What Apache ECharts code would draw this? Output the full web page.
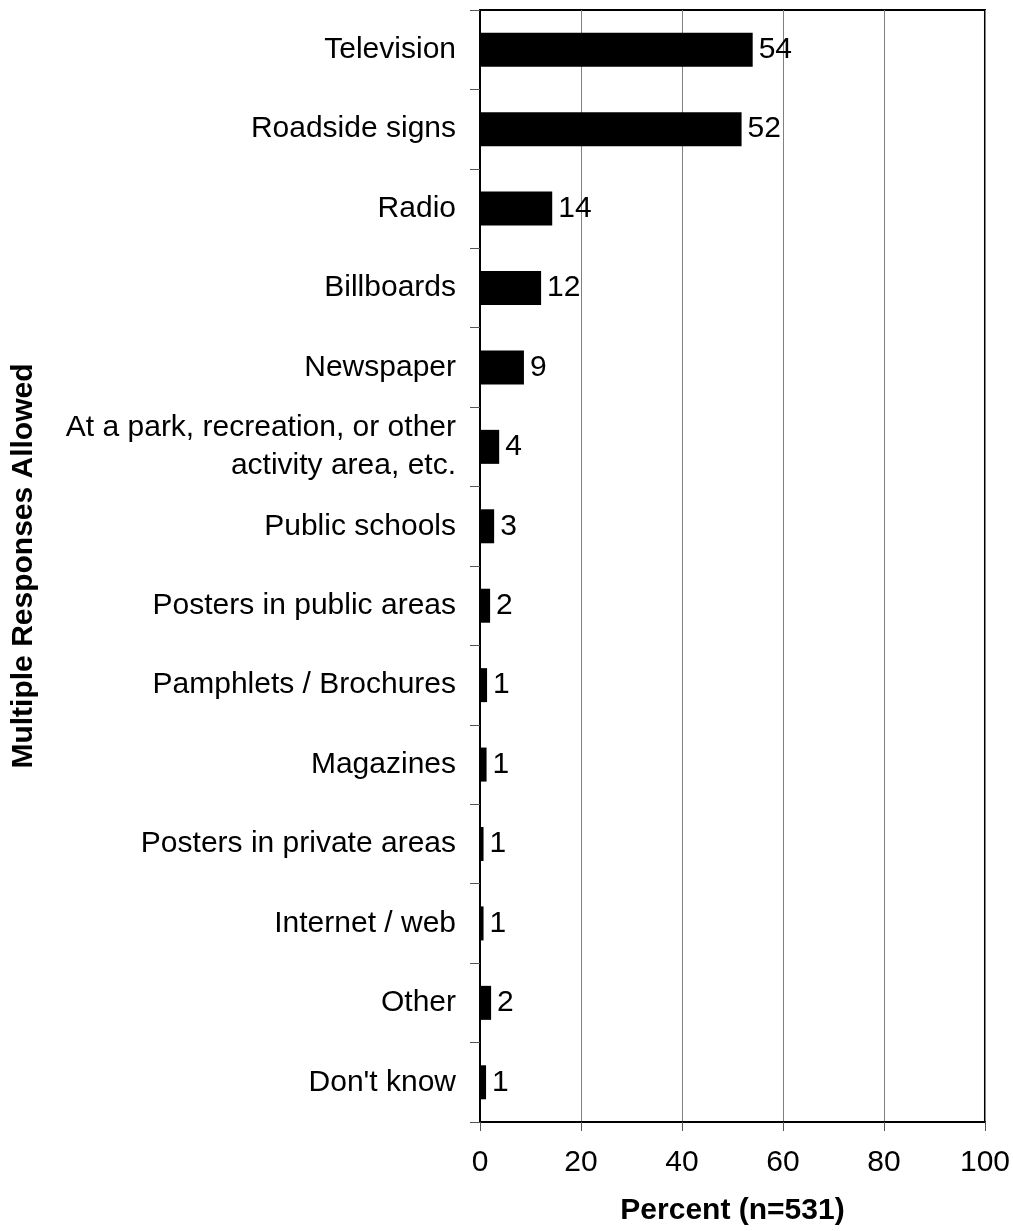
<!DOCTYPE html>
<html>
<head>
<meta charset="utf-8">
<script src="https://cdn.jsdelivr.net/npm/echarts@6/dist/echarts.min.js"></script>
<style>
  html, body { margin: 0; padding: 0; background: #fff; }
  #chart { width: 1013px; height: 1231px; }
</style>
</head>
<body>
<div id="chart"></div>
<script>
(function() {
    'use strict';

    // categories, top to bottom
    var categories = [
        "Television",
        "Roadside signs",
        "Radio",
        "Billboards",
        "Newspaper",
        "At a park, recreation, or other\nactivity area, etc.",
        "Public schools",
        "Posters in public areas",
        "Pamphlets / Brochures",
        "Magazines",
        "Posters in private areas",
        "Internet / web",
        "Other",
        "Don't know"
    ];

    // percent
    var percents = [54.0, 51.8, 14.3, 12.1, 8.7, 3.8, 2.8, 2.0, 1.4, 1.3, 0.7, 0.7, 2.2, 1.2];

    var xTicks = [0, 20, 40, 60, 80, 100];

    var font = "'Liberation Sans', Arial, sans-serif";
    var fontSize = 30;

    var myChart = echarts.init(document.getElementById("chart"));

    var option = {
        animation : false,
        backgroundColor : "#fff",
        grid : {
            left : 480,
            right : 28,
            top : 10,
            bottom : 109,
            show : true,
            borderColor : "#000",
            borderWidth : 2
        },
        xAxis : {
            type : "value",
            min : xTicks[0],
            max : xTicks[xTicks.length - 1],
            interval : 20,
            name : "Percent (n=531)",
            nameLocation : "middle",
            nameGap : 74,
            nameTextStyle : {
                fontFamily : font,
                fontSize : fontSize,
                fontWeight : "bold",
                color : "#000"
            },
            axisLine : { show : true, lineStyle : { color : "#000", width : 2 } },
            axisTick : { show : true, inside : false, length : 9, lineStyle : { color : "#555", width : 1 } },
            axisLabel : {
                fontFamily : font,
                fontSize : fontSize,
                color : "#000",
                margin : 26
            },
            splitLine : { show : true, lineStyle : { color : "#808080", width : 1 } }
        },
        yAxis : {
            type : "category",
            data : categories,
            inverse : true,
            name : "Multiple Responses Allowed",
            nameLocation : "middle",
            nameGap : 441,
            nameRotate : 90,
            nameTextStyle : {
                fontFamily : font,
                fontSize : fontSize,
                fontWeight : "bold",
                color : "#000"
            },
            axisLine : { show : true, lineStyle : { color : "#000", width : 2 } },
            axisTick : { show : true, inside : false, length : 10, alignWithLabel : false, lineStyle : { color : "#555", width : 1 } },
            axisLabel : {
                fontFamily : font,
                fontSize : fontSize,
                color : "#000",
                margin : 24,
                align : "right",
                lineHeight : 38
            },
            splitLine : { show : false }
        },
        series : [{
            type : "bar",
            data : percents,
            barWidth : 34,
            itemStyle : { color : "#000" },
            label : {
                show : true,
                position : "right",
                distance : 6,
                fontFamily : font,
                fontSize : fontSize,
                color : "#000",
                formatter : function(p) { return Math.round(p.value); }
            }
        }]
    };

    myChart.setOption(option);
})();
</script>
</body>
</html>
